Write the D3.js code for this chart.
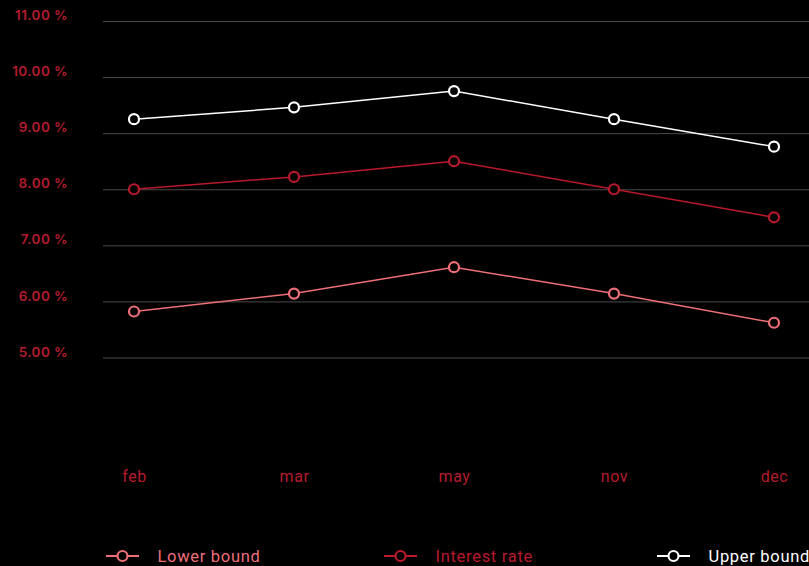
<!DOCTYPE html>
<html>
<head>
<meta charset="utf-8">
<script src="https://cdn.jsdelivr.net/npm/d3@7"></script>
<style>
  html, body { margin: 0; padding: 0; background: #000; }
  svg { display: block; }
</style>
</head>
<body>
<svg id="chart" width="809" height="566"></svg>
<script>
// Monthly rate corridor: interest rate with its lower and upper bounds (in %)
const months = ["feb", "mar", "may", "nov", "dec"];
const lowerBound = [5.82, 6.14, 6.61, 6.14, 5.62];
const interestRate = [8.0, 8.22, 8.5, 8.0, 7.5];
const upperBound = [9.25, 9.46, 9.75, 9.25, 8.76];
const yTicks = [5, 6, 7, 8, 9, 10, 11];

const series = [
  { name: "Lower bound", values: lowerBound, color: "#ee6f78" },
  { name: "Interest rate", values: interestRate, color: "#b8192c" },
  { name: "Upper bound", values: upperBound, color: "#ffffff" }
];

const svg = d3.select("#chart");
const W = 809, H = 566;
const gridLeft = 103;
const axisColor = "#b51c2d";

const x = d3.scalePoint().domain(months).range([134, 774]);
const y = d3.scaleLinear().domain([5, 11]).range([357.5, 21]);

// Horizontal grid lines with percentage labels
const yAxis = d3.axisLeft(y)
  .tickValues(yTicks)
  .tickSize(-(W - gridLeft))
  .tickPadding(35)
  .tickFormat(d => d3.format(".2f")(d) + " %");

const gy = svg.append("g")
  .attr("transform", `translate(${gridLeft},0)`)
  .call(yAxis);
gy.select(".domain").remove();
gy.selectAll(".tick line")
  .attr("stroke", "#4a4a4a")
  .attr("stroke-width", 1);
gy.selectAll(".tick text")
  .attr("fill", axisColor)
  .attr("font-family", "Inter, 'Noto Sans', sans-serif")
  .attr("font-weight", 600)
  .attr("font-size", 13.5)
  .attr("letter-spacing", "0.4px")
  .attr("dy", "-0.1em");

// Month labels along the bottom
const xAxis = d3.axisBottom(x).tickSize(0).tickPadding(0);
const gx = svg.append("g")
  .attr("transform", "translate(0,471)")
  .call(xAxis);
gx.select(".domain").remove();
gx.selectAll(".tick text")
  .attr("fill", axisColor)
  .attr("font-family", "Roboto, 'Noto Sans', sans-serif")
  .attr("font-size", 16)
  .attr("letter-spacing", "0.6px")
  .attr("dy", "0.7em");

// Lines and circular markers for each series
const line = d3.line()
  .x((d, i) => x(months[i]))
  .y(d => y(d));

const gSeries = svg.append("g");
series.forEach(s => {
  gSeries.append("path")
    .datum(s.values)
    .attr("fill", "none")
    .attr("stroke", s.color)
    .attr("stroke-width", 1.5)
    .attr("d", line);
  gSeries.selectAll(null)
    .data(s.values)
    .join("circle")
    .attr("cx", (d, i) => x(months[i]))
    .attr("cy", d => y(d))
    .attr("r", 5)
    .attr("fill", "#000")
    .attr("stroke", s.color)
    .attr("stroke-width", 2.2);
});

// Legend row
const legendX = [106, 384, 657];
const legend = svg.append("g").attr("transform", "translate(0,556)");
series.forEach((s, i) => {
  const g = legend.append("g").attr("transform", `translate(${legendX[i]},0)`);
  g.append("line")
    .attr("x1", 0).attr("x2", 33)
    .attr("y1", 0).attr("y2", 0)
    .attr("stroke", s.color)
    .attr("stroke-width", 2);
  g.append("circle")
    .attr("cx", 16.5).attr("cy", 0).attr("r", 5)
    .attr("fill", "#000")
    .attr("stroke", s.color)
    .attr("stroke-width", 2.2);
  g.append("text")
    .attr("x", 51.5)
    .attr("y", 0)
    .attr("dy", "0.36em")
    .attr("fill", s.color)
    .attr("font-family", "Roboto, 'Noto Sans', sans-serif")
    .attr("font-size", 16.5)
    .attr("letter-spacing", "0.7px")
    .text(s.name);
});
</script>
</body>
</html>
